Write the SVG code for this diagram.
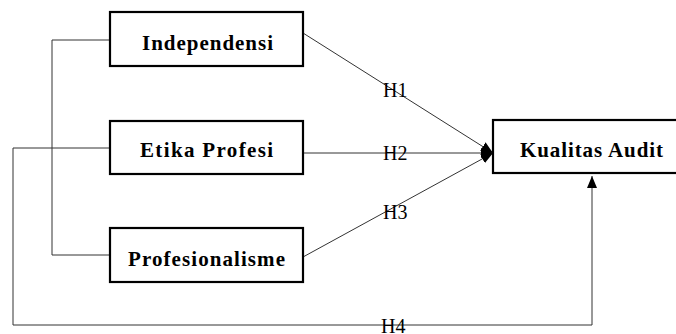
<svg xmlns="http://www.w3.org/2000/svg" width="676" height="334" viewBox="0 0 676 334">
<defs>
<style>
.box{fill:#fff;stroke:#000;stroke-width:2.2}
.lbl{font-family:"Liberation Serif","Times New Roman",serif;font-weight:bold;font-size:21px;fill:#000}
.h{font-family:"Liberation Serif","Times New Roman",serif;font-size:20px;fill:#000}
.ln{fill:none;stroke:#333;stroke-width:1}
</style>
<marker id="arr" viewBox="0 0 12 10" refX="12" refY="5" markerWidth="12" markerHeight="10" markerUnits="userSpaceOnUse" orient="auto">
<path d="M0,0 L12,5 L0,10 Z" fill="#000"/>
</marker>
</defs>
<rect width="676" height="334" fill="#fff"/>
<g id="connectors">
<polyline class="ln" points="110,40 52,40 52,255 110,255"/>
<polyline class="ln" points="110,148 13,148 13,325 592,325 592,176" marker-end="url(#arr)"/>
<line class="ln" x1="303" y1="33" x2="493" y2="153" marker-end="url(#arr)"/>
<line class="ln" x1="303" y1="153" x2="493" y2="153" marker-end="url(#arr)"/>
<line class="ln" x1="303" y1="257" x2="493" y2="153" marker-end="url(#arr)"/>
</g>
<g id="labels">
<text class="h" x="383" y="97">H1</text>
<text class="h" x="383" y="160">H2</text>
<text class="h" x="383" y="219">H3</text>
<text class="h" x="381" y="333">H4</text>
</g>
<g id="independensi">
<rect class="box" x="110" y="12" width="193" height="54"/>
<text class="lbl" x="142" y="50" textLength="131" lengthAdjust="spacing">Independensi</text>
</g>
<g id="etika">
<rect class="box" x="110" y="121" width="193" height="53"/>
<text class="lbl" x="140" y="157" textLength="133" lengthAdjust="spacing">Etika Profesi</text>
</g>
<g id="profesionalisme">
<rect class="box" x="110" y="228" width="193" height="54"/>
<text class="lbl" x="128" y="266" textLength="157" lengthAdjust="spacing">Profesionalisme</text>
</g>
<g id="kualitas">
<rect class="box" x="493" y="120" width="190" height="53"/>
<text class="lbl" x="520" y="157" textLength="143" lengthAdjust="spacing">Kualitas Audit</text>
</g>
</svg>
